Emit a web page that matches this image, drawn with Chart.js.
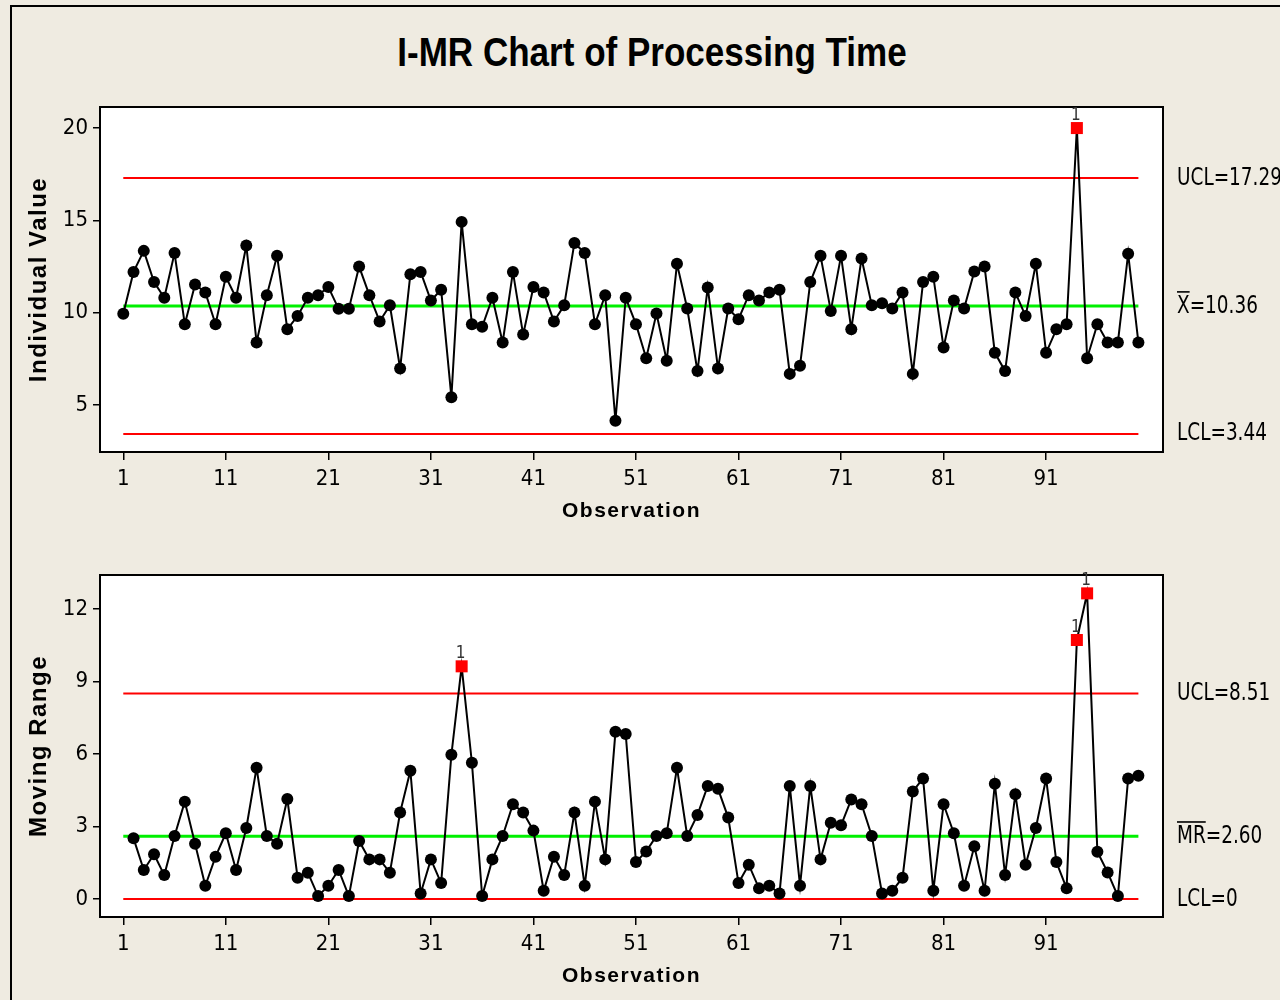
<!DOCTYPE html>
<html>
<head>
<meta charset="utf-8">
<title>I-MR Chart of Processing Time</title>
<script src="https://cdn.jsdelivr.net/npm/chart.js@4.4.0/dist/chart.umd.min.js"></script>
<style>
  html, body { margin: 0; padding: 0; background: #EFEBE1; }
  #page { position: relative; width: 1280px; height: 1000px; overflow: hidden; background: #EFEBE1; }
  #frame { position: absolute; left: 10px; top: 5px; width: 1300px; height: 1100px;
           border-left: 2px solid #000; border-top: 2px solid #000; }
  #title { position: absolute; left: 0; width: 1304px; top: 30px; text-align: center;
           font: bold 40px "Liberation Sans", Arial, sans-serif; color: #000;
           transform: scaleX(0.876); transform-origin: 652px 0; }
  canvas { position: absolute; left: 0; }
</style>
</head>
<body>
<div id="page">
  <div id="frame"></div>
  <div id="title">I-MR Chart of Processing Time</div>
  <canvas id="Individual" width="1280" height="540" style="top:0"></canvas>
  <canvas id="MovingRange" width="1280" height="460" style="top:540px"></canvas>
</div>
<script>
// individual values, observations 1..100
var indValues = [
  9.94, 12.21, 13.35, 11.66, 10.81, 13.23, 9.38, 11.53, 11.10, 9.38,
  11.95, 10.81, 13.64, 8.39, 10.95, 13.08, 9.11, 9.82, 10.81, 10.95,
  11.39, 10.21, 10.21, 12.50, 10.95, 9.53, 10.40, 6.98, 12.09, 12.21,
  10.66, 11.24, 5.43, 14.92, 9.38, 9.24, 10.81, 8.39, 12.21, 8.82,
  11.39, 11.10, 9.53, 10.40, 13.78, 13.23, 9.38, 10.95, 4.15, 10.81,
  9.38, 7.54, 9.96, 7.40, 12.65, 10.23, 6.84, 11.37, 6.98, 10.23,
  9.65, 10.95, 10.66, 11.10, 11.24, 6.69, 7.13, 11.66, 13.08, 10.10,
  13.08, 9.11, 12.94, 10.40, 10.52, 10.23, 11.10, 6.69, 11.66, 11.95,
  8.12, 10.66, 10.23, 12.23, 12.50, 7.83, 6.84, 11.10, 9.82, 12.65,
  7.83, 9.10, 9.38, 20.00, 7.54, 9.38, 8.39, 8.39, 13.20, 8.39
];
// moving ranges, observations 2..100
var mrValues = [
  2.51, 1.20, 1.85, 0.99, 2.61, 4.03, 2.29, 0.55, 1.75,
  2.72, 1.20, 2.94, 5.43, 2.61, 2.29, 4.14, 0.88, 1.09, 0.12,
  0.55, 1.20, 0.12, 2.40, 1.64, 1.64, 1.09, 3.58, 5.31, 0.23,
  1.64, 0.66, 5.97, 9.63, 5.64, 0.12, 1.64, 2.61, 3.92, 3.58,
  2.83, 0.34, 1.75, 0.99, 3.58, 0.55, 4.03, 1.64, 6.92, 6.83,
  1.53, 1.97, 2.61, 2.72, 5.43, 2.61, 3.48, 4.68, 4.56, 3.37,
  0.66, 1.42, 0.44, 0.55, 0.23, 4.68, 0.55, 4.68, 1.64, 3.16,
  3.05, 4.12, 3.92, 2.61, 0.23, 0.34, 0.88, 4.45, 4.99, 0.34,
  3.92, 2.72, 0.55, 2.18, 0.34, 4.77, 0.99, 4.34, 1.42, 2.94,
  4.99, 1.53, 0.44, 10.72, 12.65, 1.96, 1.10, 0.12, 4.99, 5.10
];
var indStart = 1;
var mrStart = 2;

// control limits
var indLimits = { ucl: 17.29, center: 10.36, lcl: 3.44 };
var mrLimits = { ucl: 8.51, center: 2.60, lcl: 0 };
var indLimitText = ["UCL=17.29", "X=10.36", "LCL=3.44"];
var mrLimitText = ["UCL=8.51", "MR=2.60", "LCL=0"];

// out of control observations (test 1)
var indFlags = [94];
var mrFlags = [34, 94, 95];

// tick labels
var obsTicks = [1, 11, 21, 31, 41, 51, 61, 71, 81, 91];
var indTicks = [5, 10, 15, 20];
var mrTicks = [0, 3, 6, 9, 12];

var NARROW = '"Liberation Sans Narrow", "DejaVu Sans Condensed", sans-serif';
var BOLD = '"Liberation Sans", Arial, sans-serif';

function toPoints(values, start) {
    var pts = [];
    for (var i = 0; i < values.length; i++) {
        pts.push({x: start + i, y: values[i]});
    }
    return pts;
}

var boxPlugin = {
    id: 'box',
    beforeDraw: function (chart) {
        var a = chart.chartArea, ctx = chart.ctx;
        ctx.save();
        ctx.fillStyle = '#fff';
        ctx.fillRect(a.left, a.top, a.right - a.left, a.bottom - a.top);
        ctx.restore();
        // axis titles are drawn a bit spaced out
        ctx.letterSpacing = '1.5px';
    },
    beforeDatasetsDraw: function (chart) {
        chart.ctx.letterSpacing = '0px';
    },
    afterDraw: function (chart) {
        var a = chart.chartArea, ctx = chart.ctx;
        var o = chart.options.plugins.box;
        var y = chart.scales.y;
        ctx.save();
        ctx.strokeStyle = '#000';
        ctx.lineWidth = 2;
        ctx.strokeRect(a.left, a.top, a.right - a.left, a.bottom - a.top);

        // limit labels at the right, in a condensed face
        ctx.fillStyle = '#000';
        ctx.font = '25px ' + NARROW;
        ctx.textBaseline = 'middle';
        ctx.textAlign = 'left';
        var vals = [o.limits.ucl, o.limits.center, o.limits.lcl];
        for (var i = 0; i < vals.length; i++) {
            var py = y.getPixelForValue(vals[i]);
            ctx.save();
            ctx.translate(a.right + 14, py);
            ctx.scale(0.82, 1);
            ctx.fillText(o.texts[i], 0, 0);
            if (i === 1) {
                // bar over the statistic
                var barW = ctx.measureText(o.barText).width;
                ctx.fillRect(0, -15, barW, 1.6);
            }
            ctx.restore();
        }

        // "1" marks over flagged points
        ctx.font = '17px ' + NARROW;
        ctx.fillStyle = '#333';
        ctx.textAlign = 'center';
        ctx.textBaseline = 'alphabetic';
        var data = chart.data.datasets[0].data;
        for (var j = 0; j < o.flags.length; j++) {
            var p = data[o.flags[j] - o.start];
            ctx.fillText('1', chart.scales.x.getPixelForValue(p.x) - 1, y.getPixelForValue(p.y) - 8);
        }
        ctx.restore();
    }
};

function makePanel(canvasId, values, start, limits, texts, barText, flags, yRange, yTicks, yTitle, lay) {
    var ctx = document.getElementById(canvasId);
    var first = 1, last = 100;
    var flagged = function (c) {
        var obs = start + c.dataIndex;
        return flags.indexOf(obs) >= 0;
    };
    var limitLine = function (v, color, w) {
        return {
            data: [{x: first, y: v}, {x: last, y: v}],
            borderColor: color, backgroundColor: color, borderWidth: w,
            pointRadius: 0, order: 2
        };
    };
    return new Chart(ctx, {
        type: 'line',
        data: {
            datasets: [
                {
                    data: toPoints(values, start),
                    borderColor: '#000',
                    borderWidth: 2,
                    lineTension: 0,
                    pointStyle: function (c) { return flagged(c) ? 'rect' : 'circle'; },
                    pointRadius: function (c) { return flagged(c) ? 8.5 : 6; },
                    pointBackgroundColor: function (c) { return flagged(c) ? '#ff0000' : '#000'; },
                    pointBorderWidth: 0,
                    order: 1
                },
                limitLine(limits.ucl, '#ff0000', 2),
                limitLine(limits.center, '#00f000', 3),
                limitLine(limits.lcl, '#ff0000', 2)
            ]
        },
        options: {
            responsive: false,
            animation: false,
            layout: {padding: {left: 0, right: 117, top: lay.top, bottom: 0}},
            plugins: {
                legend: {display: false},
                tooltip: {enabled: false},
                box: {limits: limits, texts: texts, barText: barText, flags: flags, start: start}
            },
            scales: {
                x: {
                    type: 'linear',
                    min: -1.27,
                    max: 102.4,
                    afterBuildTicks: function (s) {
                        s.ticks = obsTicks.map(function (v) { return {value: v}; });
                    },
                    afterFit: function (s) { s.height = lay.xHeight; },
                    grid: {drawOnChartArea: false, drawTicks: true, tickLength: 8, color: '#000', lineWidth: 1.5},
                    border: {display: true, color: '#000', width: 2},
                    ticks: {color: '#000', font: {family: NARROW, size: 22}, padding: 6, maxRotation: 0, autoSkip: false, z: 1},
                    title: {display: true, text: 'Observation', color: '#000',
                            font: {family: BOLD, size: 21, weight: 'bold'}, padding: {top: 0, bottom: lay.titleBottom}}
                },
                y: {
                    min: yRange[0],
                    max: yRange[1],
                    afterBuildTicks: function (s) {
                        s.ticks = yTicks.map(function (v) { return {value: v}; });
                    },
                    afterFit: function (s) { s.width = 100; },
                    grid: {drawOnChartArea: false, drawTicks: true, tickLength: 7, color: '#000', lineWidth: 1.5},
                    border: {display: true, color: '#000', width: 2},
                    ticks: {color: '#000', font: {family: NARROW, size: 22}, padding: 5, z: 1},
                    title: {display: true, text: yTitle, color: '#000',
                            font: {family: BOLD, size: 24, weight: 'bold'}, padding: {top: 25, bottom: 0}}
                }
            }
        },
        plugins: [boxPlugin]
    });
}

function initEvents() {
    makePanel('Individual', indValues, indStart, indLimits, indLimitText, 'X', indFlags,
              [2.46, 21.14], indTicks, 'Individual Value', {top: 107, xHeight: 88, titleBottom: 16});
    makePanel('MovingRange', mrValues, mrStart, mrLimits, mrLimitText, 'MR', mrFlags,
              [-0.745, 13.41], mrTicks, 'Moving Range', {top: 35, xHeight: 83, titleBottom: 11});
}

document.addEventListener('DOMContentLoaded', initEvents);
</script>
</body>
</html>
